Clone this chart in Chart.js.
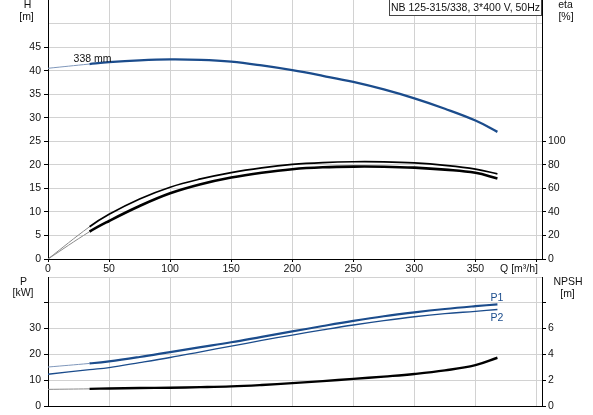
<!DOCTYPE html>
<html>
<head>
<meta charset="utf-8">
<script src="https://cdn.jsdelivr.net/npm/chart.js@4.4.1/dist/chart.umd.min.js"></script>
<style>
html, body { margin: 0; padding: 0; background: #fff; }
#wrap { position: relative; width: 593px; height: 415px; overflow: hidden; }
#top { position: absolute; left: 0; top: 0; width: 593px; height: 278px; }
#bot { position: absolute; left: 0; top: 270px; width: 593px; height: 145px; }
</style>
</head>
<body>
<div id="wrap">
  <div id="top"><canvas id="pumpChart"></canvas></div>
  <div id="bot"><canvas id="powerChart"></canvas></div>
</div>
<script>
// curve points
var flow     = [0, 34, 50, 75, 100, 125, 150, 175, 200, 225, 250, 275, 300, 325, 350, 368];
var head     = [40.5, 41.4, 41.8, 42.2, 42.4, 42.3, 41.9, 41.1, 40.1, 38.9, 37.6, 36.0, 34.1, 31.9, 29.4, 27.0];
var etaUpper = [0, 27.4, 38.0, 51.0, 61.0, 68.0, 73.4, 77.4, 80.3, 81.9, 82.6, 82.5, 81.6, 79.6, 76.4, 72.3];
var etaLower = [0, 23.2, 32.3, 45.0, 55.8, 63.5, 69.2, 73.3, 76.3, 77.9, 78.5, 78.4, 77.6, 75.9, 73.2, 68.3];
var powerP1  = [15.1, 16.5, 17.3, 19.0, 20.9, 22.8, 24.7, 26.8, 28.9, 31.0, 33.0, 34.8, 36.3, 37.6, 38.7, 39.4];
var powerP2  = [12.3, 14.1, 14.9, 16.8, 18.8, 21.0, 23.2, 25.4, 27.5, 29.5, 31.4, 33.1, 34.6, 35.8, 36.7, 37.4];
var npsh     = [1.29, 1.33, 1.36, 1.39, 1.42, 1.46, 1.52, 1.63, 1.77, 1.93, 2.10, 2.28, 2.48, 2.76, 3.17, 3.74];

var qTicks    = [0, 50, 100, 150, 200, 250, 300, 350, 400];
var hTicks    = [0, 5, 10, 15, 20, 25, 30, 35, 40, 45, 50, 55];
var etaTicks  = [0, 20, 40, 60, 80, 100];
var pTicks    = [0, 10, 20, 30, 40, 50];
var npshTicks = [0, 2, 4, 6, 8];

var BLUE = '#1b4c8c';
var GRID = '#d2d2d2';

Chart.defaults.font.family = "'Liberation Sans', Arial, sans-serif";
Chart.defaults.font.size = 10.5;
Chart.defaults.color = '#111';

function pts(ys) {
    return flow.map(function(q, i) { return { x: q, y: ys[i] }; });
}

// thin start of the curve below the min flow, heavy line after
function seg(thinColor, thinWidth, color, width) {
    return {
        borderColor: function(c) { return c.p0.parsed.x < 34 ? thinColor : color; },
        borderWidth: function(c) { return c.p0.parsed.x < 34 ? thinWidth : width; }
    };
}

function setTicks(list) {
    return function(s) { s.ticks = list.map(function(v) { return { value: v }; }); };
}

function lineSet(ys, axis, color, width, segment) {
    var ds = {
        data: pts(ys),
        yAxisID: axis,
        borderColor: color,
        borderWidth: width,
        pointRadius: 0,
        fill: false,
        tension: 0.4
    };
    if (segment) ds.segment = segment;
    return ds;
}

function text(ctx, str, x, y, color) {
    ctx.fillStyle = color || '#111';
    ctx.fillText(str, x, y);
}

var topLabels = {
    id: 'topLabels',
    afterDraw: function(chart) {
        var ctx = chart.ctx;
        ctx.save();
        ctx.font = "10.5px 'Liberation Sans', Arial, sans-serif";
        ctx.textAlign = 'center';
        ctx.textBaseline = 'middle';
        text(ctx, 'H', 27.5, 5.5);
        text(ctx, '[m]', 26.5, 17);
        text(ctx, 'eta', 565.5, 5.5);
        text(ctx, '[%]', 566, 17);
        text(ctx, '338 mm', 92.5, 59);
        ctx.textAlign = 'right';
        text(ctx, 'Q [m\u00b3/h]', 538, 269.5);
        // model box
        ctx.fillStyle = '#fff';
        ctx.fillRect(389.5, -1, 152, 16.5);
        ctx.strokeStyle = '#444';
        ctx.lineWidth = 1;
        ctx.strokeRect(389.5, -1, 152, 16.5);
        ctx.textAlign = 'center';
        text(ctx, 'NB 125-315/338, 3*400 V, 50Hz', 465.5, 8);
        ctx.restore();
    }
};

var botLabels = {
    id: 'botLabels',
    afterDraw: function(chart) {
        var ctx = chart.ctx;
        ctx.save();
        ctx.font = "10.5px 'Liberation Sans', Arial, sans-serif";
        ctx.textAlign = 'center';
        ctx.textBaseline = 'middle';
        text(ctx, 'P', 23.5, 12);
        text(ctx, '[kW]', 23, 23.5);
        text(ctx, 'NPSH', 568, 12.5);
        text(ctx, '[m]', 567.5, 24.5);
        text(ctx, 'P1', 497, 28.5, BLUE);
        text(ctx, 'P2', 497, 48, BLUE);
        ctx.restore();
    }
};

document.addEventListener('DOMContentLoaded', function() {
    var ctx1 = document.getElementById('pumpChart').getContext('2d');
    new Chart(ctx1, {
        type: 'line',
        data: {
            datasets: [
                lineSet(head, 'y', BLUE, 2.3, seg('#7f97bb', 1, BLUE, 2.3)),
                lineSet(etaUpper, 'eta', '#000', 1.7, seg('#8a8a8a', 1, '#000', 1.7)),
                lineSet(etaLower, 'eta', '#000', 2.6, seg('#8a8a8a', 1, '#000', 2.6))
            ]
        },
        options: {
            responsive: true,
            maintainAspectRatio: false,
            animation: false,
            layout: { padding: 0 },
            plugins: { legend: { display: false }, tooltip: { enabled: false } },
            scales: {
                x: {
                    type: 'linear', min: 0, max: 404.5,
                    afterBuildTicks: setTicks(qTicks),
                    ticks: {
                        maxRotation: 0, autoSkip: false, padding: 1,
                        callback: function(v) { return v === 400 ? '' : v; }
                    },
                    grid: { color: GRID, tickLength: 3, tickColor: '#000' },
                    border: { color: '#000' },
                    afterFit: function(s) { s.height = 19; s.paddingLeft = 0; s.paddingRight = 0; }
                },
                y: {
                    position: 'left', min: 0, max: 55,
                    afterBuildTicks: setTicks(hTicks),
                    ticks: { padding: 3, callback: function(v) { return v <= 45 ? v : ''; } },
                    grid: {
                        color: function(c) { return c.tick.value === 55 ? 'rgba(0,0,0,0)' : GRID; },
                        tickColor: function(c) { return c.tick.value <= 45 ? '#000' : 'rgba(0,0,0,0)'; },
                        tickLength: 4
                    },
                    border: { color: '#000' },
                    afterFit: function(s) { s.width = 48; s.paddingTop = 0; s.paddingBottom = 0; }
                },
                eta: {
                    position: 'right', min: 0, max: 220,
                    afterBuildTicks: setTicks(etaTicks),
                    ticks: { padding: 2 },
                    grid: { drawOnChartArea: false, tickLength: 4, tickColor: '#000' },
                    border: { color: '#000' },
                    afterFit: function(s) { s.width = 51; s.paddingTop = 0; s.paddingBottom = 0; }
                }
            }
        },
        plugins: [topLabels]
    });

    var ctx2 = document.getElementById('powerChart').getContext('2d');
    new Chart(ctx2, {
        type: 'line',
        data: {
            datasets: [
                lineSet(powerP1, 'y', BLUE, 2.2, seg('#7f97bb', 1, BLUE, 2.2)),
                lineSet(powerP2, 'y', BLUE, 1.3),
                lineSet(npsh, 'npsh', '#000', 2.4, seg('#8a8a8a', 1, '#000', 2.4))
            ]
        },
        options: {
            responsive: true,
            maintainAspectRatio: false,
            animation: false,
            layout: { padding: { top: 7, left: 0, right: 0, bottom: 0 } },
            plugins: { legend: { display: false }, tooltip: { enabled: false } },
            scales: {
                x: {
                    type: 'linear', min: 0, max: 404.5,
                    afterBuildTicks: setTicks(qTicks),
                    ticks: { display: false },
                    grid: { color: GRID, drawTicks: false },
                    border: { color: '#000' },
                    afterFit: function(s) { s.height = 9; s.paddingLeft = 0; s.paddingRight = 0; }
                },
                y: {
                    position: 'left', min: 0, max: 50,
                    afterBuildTicks: setTicks(pTicks),
                    ticks: { padding: 3, callback: function(v) { return v <= 30 ? v : ''; } },
                    grid: {
                        color: GRID,
                        tickColor: function(c) { return c.tick.value <= 40 ? '#000' : 'rgba(0,0,0,0)'; },
                        tickLength: 4
                    },
                    border: { color: '#000' },
                    afterFit: function(s) { s.width = 48; s.paddingTop = 0; s.paddingBottom = 0; }
                },
                npsh: {
                    position: 'right', min: 0, max: 10,
                    afterBuildTicks: setTicks(npshTicks),
                    ticks: { padding: 2, callback: function(v) { return v <= 6 ? v : ''; } },
                    grid: { drawOnChartArea: false, tickLength: 4, tickColor: '#000' },
                    border: { color: '#000' },
                    afterFit: function(s) { s.width = 51; s.paddingTop = 0; s.paddingBottom = 0; }
                }
            }
        },
        plugins: [botLabels]
    });
});
</script>
</body>
</html>
